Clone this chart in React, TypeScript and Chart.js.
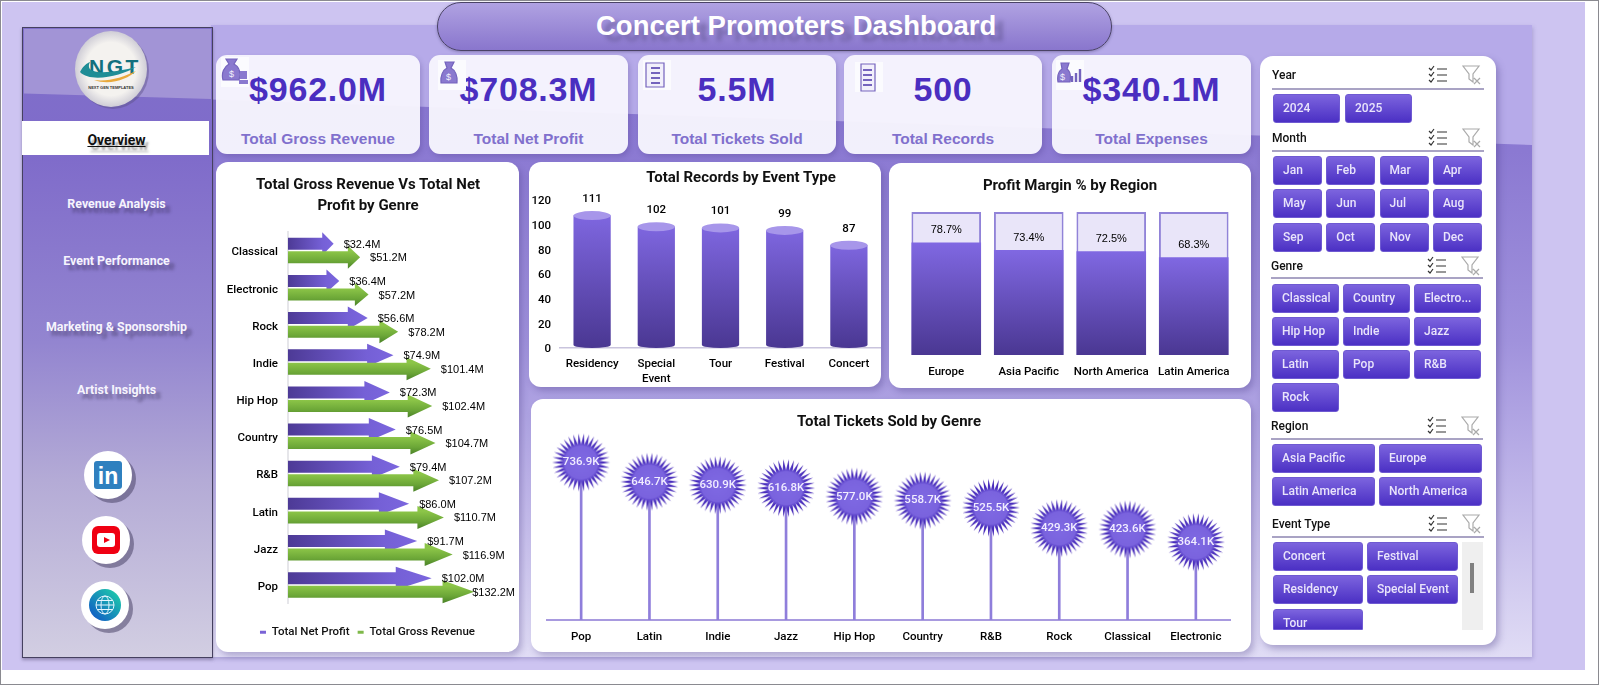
import { useEffect, useRef } from 'react'
import { Chart, registerables } from 'chart.js'

Chart.register(...registerables)

const arrowGenres = ['Classical', 'Electronic', 'Rock', 'Indie', 'Hip Hop', 'Country', 'R&B', 'Latin', 'Jazz', 'Pop']
const netProfit = [32.4, 36.4, 56.6, 74.9, 72.3, 76.5, 79.4, 86.0, 91.7, 102.0]
const grossRevenue = [51.2, 57.2, 78.2, 101.4, 102.4, 104.7, 107.2, 110.7, 116.9, 132.2]

const eventTypes = ['Residency', ['Special', 'Event'], 'Tour', 'Festival', 'Concert']
const eventRecords = [111, 102, 101, 99, 87]
const recordTicks = [0, 20, 40, 60, 80, 100, 120]

const regions = ['Europe', 'Asia Pacific', 'North America', 'Latin America']
const profitMargin = [78.7, 73.4, 72.5, 68.3]
const marginTrack = [100, 100, 100, 100]

const ticketGenres = ['Pop', 'Latin', 'Indie', 'Jazz', 'Hip Hop', 'Country', 'R&B', 'Rock', 'Classical', 'Electronic']
const ticketsSold = [736.9, 646.7, 630.9, 616.8, 577.0, 558.7, 525.5, 429.3, 423.6, 364.1]

const kpiValues = ['$962.0M', '$708.3M', '5.5M', '500', '$340.1M']
const kpiLabels = ['Total Gross Revenue', 'Total Net Profit', 'Total Tickets Sold', 'Total Records', 'Total Expenses']
const navItems = ['Revenue Analysis', 'Event Performance', 'Marketing & Sponsorship', 'Artist Insights']

const ROBOTO = 'Roboto, sans-serif'
const ARIAL = '"Liberation Sans", Arial, sans-serif'

function columnFill(c: any) {
  const { ctx, scales } = c.chart
  const y = scales.y
  if (!y || c.raw == null) return '#7a62dc'
  const top = y.getPixelForValue(c.raw)
  const bottom = y.getPixelForValue(0)
  if (!Number.isFinite(top) || !Number.isFinite(bottom)) return '#7a62dc'
  const g = ctx.createLinearGradient(0, top, 0, bottom)
  g.addColorStop(0, '#8068e2')
  g.addColorStop(1, '#4a3792')
  return g
}

const arrowBars = {
  id: 'arrowBars',
  beforeDatasetDraw: () => false,
  afterDatasetsDraw(chart: any) {
    const { ctx } = chart
    chart.data.datasets.forEach((ds: any, i: number) => {
      const headShare = i === 0 ? 0.25 : 0.17
      chart.getDatasetMeta(i).data.forEach((el: any) => {
        const len = el.x - el.base
        const neck = el.x - len * headShare
        const g = i === 0
          ? ctx.createLinearGradient(el.base, 0, el.x, 0)
          : ctx.createLinearGradient(0, el.y - 6, 0, el.y + 11)
        if (i === 0) {
          g.addColorStop(0, '#4d3a96')
          g.addColorStop(0.75, '#7560d6')
          g.addColorStop(1, '#7b66de')
        } else {
          g.addColorStop(0, '#8cc548')
          g.addColorStop(0.6, '#6ba637')
          g.addColorStop(1, '#4c8429')
        }
        ctx.save()
        ctx.fillStyle = g
        ctx.beginPath()
        ctx.moveTo(el.base, el.y - 6)
        ctx.lineTo(neck, el.y - 6)
        ctx.lineTo(neck, el.y - 11.5)
        ctx.lineTo(el.x, el.y)
        ctx.lineTo(neck, el.y + 11.5)
        ctx.lineTo(neck, el.y + 6)
        ctx.lineTo(el.base, el.y + 6)
        ctx.closePath()
        ctx.fill()
        ctx.restore()
      })
    })
    ctx.save()
    ctx.font = `11px ${ARIAL}`
    ctx.fillStyle = '#000'
    ctx.textBaseline = 'middle'
    ctx.textAlign = 'left'
    chart.data.datasets.forEach((ds: any, i: number) => {
      chart.getDatasetMeta(i).data.forEach((el: any, j: number) => {
        const text = `$${ds.data[j].toFixed(1)}M`
        // the longest label runs back over its arrow tip instead of leaving the card
        const x = Math.min(el.x + 10, chart.width - 4 - ctx.measureText(text).width)
        ctx.fillText(text, x, el.y + 1)
      })
    })
    ctx.restore()
  },
}

const cylinderBars = {
  id: 'cylinderBars',
  beforeDatasetDraw: () => false,
  afterDatasetsDraw(chart: any) {
    const { ctx } = chart
    const values = chart.data.datasets[0].data
    chart.getDatasetMeta(0).data.forEach((el: any, j: number) => {
      const half = el.width / 2
      const g = ctx.createLinearGradient(0, el.y, 0, el.base)
      g.addColorStop(0, '#8068e2')
      g.addColorStop(1, '#4a3792')
      ctx.save()
      ctx.fillStyle = g
      ctx.beginPath()
      ctx.moveTo(el.x - half, el.y + 4.5)
      ctx.lineTo(el.x - half, el.base - 3)
      ctx.ellipse(el.x, el.base - 3, half, 3, 0, Math.PI, 0, true)
      ctx.lineTo(el.x + half, el.y + 4.5)
      ctx.closePath()
      ctx.fill()
      ctx.fillStyle = '#a796ea'
      ctx.beginPath()
      ctx.ellipse(el.x, el.y + 4.5, half, 4.5, 0, 0, Math.PI * 2)
      ctx.fill()
      ctx.font = `500 11.5px ${ROBOTO}`
      ctx.fillStyle = '#000'
      ctx.textAlign = 'center'
      ctx.textBaseline = 'middle'
      ctx.fillText(String(values[j]), el.x, el.y - 12)
      ctx.restore()
    })
  },
}

const marginLabels = {
  id: 'marginLabels',
  afterDatasetsDraw(chart: any) {
    const { ctx } = chart
    ctx.save()
    ctx.font = `11px ${ARIAL}`
    ctx.fillStyle = '#000'
    ctx.textAlign = 'center'
    ctx.textBaseline = 'middle'
    chart.getDatasetMeta(0).data.forEach((el: any, j: number) => {
      ctx.fillText(`${profitMargin[j].toFixed(1)}%`, el.x, el.y - 12)
    })
    ctx.restore()
  },
}

const starLabels = {
  id: 'starLabels',
  afterDatasetsDraw(chart: any) {
    const { ctx } = chart
    ctx.save()
    ctx.font = `500 11.5px ${ROBOTO}`
    ctx.fillStyle = '#f1edff'
    ctx.textAlign = 'center'
    ctx.textBaseline = 'middle'
    chart.getDatasetMeta(1).data.forEach((el: any, j: number) => {
      ctx.fillText(`${ticketsSold[j].toFixed(1)}K`, el.x, el.y)
    })
    ctx.restore()
  },
}

function makeStar() {
  const size = 60
  const c = document.createElement('canvas')
  c.width = size
  c.height = size
  const ctx = c.getContext('2d')!
  const mid = size / 2
  const spikes = 34
  const g = ctx.createRadialGradient(mid, mid, 4, mid, mid, 29)
  g.addColorStop(0, '#7e68e2')
  g.addColorStop(0.5, '#7a63de')
  g.addColorStop(0.64, '#4a2fbe')
  g.addColorStop(1, '#4326b4')
  ctx.fillStyle = g
  ctx.beginPath()
  for (let i = 0; i < spikes * 2; i++) {
    const r = i % 2 === 0 ? 29 : 18
    const a = (i / (spikes * 2)) * Math.PI * 2
    ctx.lineTo(mid + Math.cos(a) * r, mid + Math.sin(a) * r)
  }
  ctx.closePath()
  ctx.fill()
  return c
}

function ChartCard({ left, top, width, height, build }: any) {
  const canvasRef = useRef<HTMLCanvasElement>(null)
  useEffect(() => {
    if (!canvasRef.current) return
    const chart = new Chart(canvasRef.current, build())
    return () => chart.destroy()
  }, [build])
  return (
    <div style={{ position: 'absolute', left, top, width, height, background: '#fff', borderRadius: 12, boxShadow: '3px 4px 6px rgba(70,55,130,.3)' }}>
      <canvas ref={canvasRef} width={width} height={height} style={{ display: 'block' }} />
    </div>
  )
}

const tickFont = { family: ROBOTO, size: 11.5, weight: '500' }

function arrowChart(): any {
  return {
    type: 'bar',
    data: {
      labels: arrowGenres,
      datasets: [
        { label: 'Total Net Profit', data: netProfit, backgroundColor: '#7a63d6', categoryPercentage: 0.73, barPercentage: 1 },
        { label: 'Total Gross Revenue', data: grossRevenue, backgroundColor: '#7fb94a', categoryPercentage: 0.73, barPercentage: 1 },
      ],
    },
    options: {
      indexAxis: 'y',
      animation: false,
      responsive: false,
      layout: { autoPadding: false, padding: { top: 70, bottom: 4 } },
      plugins: {
        tooltip: { enabled: false },
        legend: {
          position: 'bottom',
          labels: { boxWidth: 6, boxHeight: 3, padding: 8, color: '#111', font: tickFont },
        },
      },
      scales: {
        x: {
          min: 0, max: 164,
          grid: { display: false }, border: { display: false },
          ticks: { display: false },
          afterFit: (s: any) => { s.height = 15 },
        },
        y: {
          grid: { display: false, drawTicks: false },
          border: { color: '#e6e6ea', width: 2 },
          ticks: { color: '#000', font: tickFont, padding: 10, labelOffset: 2 },
          afterFit: (s: any) => { s.width = 72 },
        },
      },
    },
    plugins: [arrowBars],
  }
}

function cylinderChart(): any {
  return {
    type: 'bar',
    data: {
      labels: eventTypes,
      datasets: [{ label: 'Total Records', data: eventRecords, backgroundColor: '#7a62dc', categoryPercentage: 0.58, barPercentage: 1 }],
    },
    options: {
      animation: false,
      responsive: false,
      layout: { autoPadding: false, padding: { top: 38 } },
      plugins: { legend: { display: false }, tooltip: { enabled: false } },
      scales: {
        x: {
          grid: { display: false, drawTicks: false },
          border: { color: '#c9c4dd', width: 1.5 },
          ticks: { color: '#000', font: { ...tickFont, lineHeight: 1.35 }, padding: 8, maxRotation: 0 },
          afterFit: (s: any) => { s.height = 39 },
        },
        y: {
          min: 0, max: 120,
          afterBuildTicks: (s: any) => { s.ticks = recordTicks.map(value => ({ value })) },
          grid: { display: false, drawTicks: false },
          border: { display: false },
          ticks: { color: '#000', font: tickFont, padding: 9, labelOffset: 1.5 },
          afterFit: (s: any) => { s.width = 31 },
        },
      },
    },
    plugins: [cylinderBars],
  }
}

function marginChart(): any {
  return {
    type: 'bar',
    data: {
      labels: regions,
      datasets: [
        { label: 'Profit Margin %', data: profitMargin, backgroundColor: columnFill, order: 1 },
        { label: 'Track', data: marginTrack, backgroundColor: '#e9e5f9', borderColor: '#9183d8', borderWidth: 2, order: 2 },
      ],
    },
    options: {
      animation: false,
      responsive: false,
      layout: { autoPadding: false, padding: { top: 49, left: 16, right: 16 } },
      datasets: { bar: { grouped: false, categoryPercentage: 0.844, barPercentage: 1 } },
      plugins: { legend: { display: false }, tooltip: { enabled: false } },
      scales: {
        x: {
          grid: { display: false, drawTicks: false },
          border: { display: false },
          ticks: { color: '#000', font: tickFont, padding: 10, maxRotation: 0 },
          afterFit: (s: any) => { s.height = 33 },
        },
        y: { display: false, min: 0, max: 100 },
      },
    },
    plugins: [marginLabels],
  }
}

function starChart(): any {
  return {
    type: 'bar',
    data: {
      labels: ticketGenres,
      datasets: [
        { label: 'Stem', data: ticketsSold, backgroundColor: '#8f7edb', barThickness: 2, order: 2 },
        { type: 'line', label: 'Total Tickets Sold', data: ticketsSold, showLine: false, pointStyle: makeStar(), clip: false, order: 1 },
      ],
    },
    options: {
      animation: false,
      responsive: false,
      layout: { autoPadding: false, padding: { top: 50, left: 16, right: 21 } },
      plugins: { legend: { display: false }, tooltip: { enabled: false } },
      scales: {
        x: {
          grid: { display: false, drawTicks: false },
          border: { color: '#a89adf', width: 2 },
          ticks: { color: '#000', font: tickFont, padding: 10, maxRotation: 0 },
          afterFit: (s: any) => { s.height = 32 },
        },
        y: { display: false, min: 0, max: 800 },
      },
    },
    plugins: [starLabels],
  }
}

function abs(left: number, top: number, width: number, height: number, extra: any = {}) {
  return { position: 'absolute', left, top, width, height, ...extra } as any
}

function SlicerButton({ x, y, w, label, clip }: any) {
  return (
    <div style={abs(x, y, w, clip ?? 29, {
      background: 'linear-gradient(#7c64de, #4b30c4)',
      border: '1px solid #6f5ad2', boxSizing: 'border-box',
      borderRadius: clip ? '3px 3px 0 0' : 3,
      color: '#e9e4fb', font: `500 12px ${ROBOTO}`, lineHeight: '27px',
      paddingLeft: 9, overflow: 'hidden', whiteSpace: 'nowrap',
    })}>{label}</div>
  )
}

function SlicerHead({ x, y, ruleY, w, label }: any) {
  const iconX = x + w - 56
  return (
    <>
      <div style={abs(x, y - 9, 120, 18, { font: `500 12px ${ROBOTO}`, color: '#111', lineHeight: '18px' })}>{label}</div>
      <div style={abs(x, ruleY, w, 1.5, { background: '#a9a3c4' })} />
      <svg style={abs(iconX, y - 10, 20, 20)} viewBox="0 0 20 20" fill="none" stroke="#333" strokeWidth="1.2">
        <path d="M1 3l2 2 3-4M1 9l2 2 3-4M1 15l2 2 3-4M9 4h10M9 10h10M9 16h10" />
      </svg>
      <svg style={abs(iconX + 34, y - 10, 20, 20)} viewBox="0 0 20 20" fill="none" stroke="#aaa" strokeWidth="1.2">
        <path d="M1 1h16l-6 8v8l-4-3V9zM12 13l6 6M18 13l-6 6" />
      </svg>
    </>
  )
}

function Slicers() {
  const months = ['Jan', 'Feb', 'Mar', 'Apr', 'May', 'Jun', 'Jul', 'Aug', 'Sep', 'Oct', 'Nov', 'Dec']
  const genres = ['Classical', 'Country', 'Electro...', 'Hip Hop', 'Indie', 'Jazz', 'Latin', 'Pop', 'R&B', 'Rock']
  const genreRows = [284, 317, 350, 383]
  return (
    <>
      <div style={abs(1260, 56, 236, 589, { background: '#fff', borderRadius: 13, boxShadow: '3px 4px 7px rgba(70,55,130,.35)' })} />
      <SlicerHead x={1272} y={75} ruleY={88} w={212} label="Year" />
      <SlicerButton x={1273} y={94} w={67} label="2024" />
      <SlicerButton x={1345} y={94} w={67} label="2025" />
      <SlicerHead x={1272} y={138} ruleY={150} w={212} label="Month" />
      {months.map((m, i) => (
        <SlicerButton key={m} x={1273 + (i % 4) * 53.3} y={156 + Math.floor(i / 4) * 33.3} w={49} label={m} />
      ))}
      <SlicerHead x={1271} y={266} ruleY={277} w={212} label="Genre" />
      {genres.map((g, i) => (
        <SlicerButton key={g} x={1272 + (i % 3) * 71} y={genreRows[Math.floor(i / 3)]} w={67} label={g} />
      ))}
      <SlicerHead x={1271} y={426} ruleY={438} w={212} label="Region" />
      <SlicerButton x={1272} y={444} w={103} label="Asia Pacific" />
      <SlicerButton x={1379} y={444} w={103} label="Europe" />
      <SlicerButton x={1272} y={477} w={103} label="Latin America" />
      <SlicerButton x={1379} y={477} w={103} label="North America" />
      <SlicerHead x={1272} y={524} ruleY={536} w={212} label="Event Type" />
      <SlicerButton x={1273} y={542} w={90} label="Concert" />
      <SlicerButton x={1367} y={542} w={91} label="Festival" />
      <SlicerButton x={1273} y={575} w={90} label="Residency" />
      <SlicerButton x={1367} y={575} w={91} label="Special Event" />
      <SlicerButton x={1273} y={609} w={90} label="Tour" clip={21} />
      <div style={abs(1462, 542, 21, 88, { background: '#efefef' })} />
      <div style={abs(1470, 563, 4, 30, { background: '#808080' })} />
    </>
  )
}

function KpiIcon({ x, y, kind }: any) {
  const sheet = kind === 2 || kind === 3
  const outlines = [
    'M5 2h11l-3 5c5 3 7 9 5 16H2C0 16 3 10 8 7z',
    'M7 2h9l-3 6c4 2 7 8 6 15H3C2 16 5 10 9 8z',
    'M3 3h18v24H3z',
    'M6 2h14v27H6z',
    'M5 3h8l-2 6c3 2 4 7 3 13H2C1 16 3 11 6 9z',
  ]
  return (
    <svg style={abs(x, y, 28, 30, { background: '#fbfbfe' })} viewBox="0 0 28 30">
      <path d={outlines[kind]} fill={sheet ? '#f2f0fb' : '#8a79cf'} stroke="#7463bd" strokeWidth="1.2" />
      {sheet ? <path d="M8 8h9M8 13h9M8 18h9M8 23h9" stroke="#7463bd" strokeWidth="1.8" /> : null}
      {kind === 0 ? <path d="M19 14h7v8h-7zM18 23h9v4h-9z" fill="#8a79cf" /> : null}
      {kind === 4 ? <path d="M16 22v-6M20 22v-9M24 22v-13" stroke="#7463bd" strokeWidth="2.4" /> : null}
      {kind < 2 || kind === 4 ? <text x={kind === 4 ? 4 : 8} y="20" fontSize="9" fill="#f2f0fb" fontFamily="Liberation Sans">$</text> : null}
    </svg>
  )
}

function Sidebar() {
  const shadow = '5px 5px 3px rgba(50,42,80,.45)'
  const navY = [204, 261, 327, 390]
  return (
    <>
      <div style={abs(22, 27, 191, 631, {
        background: 'linear-gradient(#8070ca 0%, #7f6bca 20%, #9385d0 50%, #b4abd6 72%, #d2cee2 100%)',
        border: '1.5px solid #45405f', boxSizing: 'border-box', boxShadow: '0 2px 3px rgba(60,50,90,.4)',
      })} />
      <div style={abs(24, 29, 187, 70, { background: '#a294d6', clipPath: 'polygon(0 0, 100% 0, 100% 100%, 0 92%)' })} />
      <div style={abs(22, 121, 187, 34, { background: '#fff' })} />
      <div style={abs(22, 121, 189, 34, {
        textAlign: 'center', font: `bold 14px ${ROBOTO}`, lineHeight: '38px', color: '#111',
        textDecoration: 'underline', textShadow: '3px 5px 2px rgba(80,80,80,.5)',
      })}>Overview</div>
      {navItems.map((n, i) => (
        <div key={n} style={abs(22, navY[i] - 10, 189, 20, {
          textAlign: 'center', font: `bold 12.4px ${ROBOTO}`, lineHeight: '20px', color: '#f6f4fd', textShadow: shadow,
        })}>{n}</div>
      ))}
      <svg style={abs(70, 28, 84, 84)} viewBox="0 0 84 84">
        <defs>
          <radialGradient id="logoFill"><stop offset="0.7" stopColor="#f4f2ef" /><stop offset="1" stopColor="#cfcdd6" /></radialGradient>
        </defs>
        <ellipse cx="43" cy="43" rx="36" ry="38" fill="#5c5088" opacity=".45" />
        <ellipse cx="41" cy="41" rx="36" ry="38" fill="url(#logoFill)" />
        <text x="45" y="46" textAnchor="middle" fontSize="21" fontWeight="bold" fontFamily="Liberation Sans" letterSpacing="2.5" fill="#12707e">NGT</text>
        <path d="M10 44c3-6 7-9 10-10-3 6 0 9 8 10 12 1 26-2 38-5-14 9-46 16-56 5z" fill="#1f8d96" />
        <path d="M24 52c14 2 30-3 42-9-8 8-26 15-42 9z" fill="#e8a93c" />
        <text x="41" y="61" textAnchor="middle" fontSize="4" fontWeight="bold" fontFamily="Liberation Sans" fill="#333">NEXT GEN TEMPLATES</text>
      </svg>
      <svg style={abs(80, 446, 60, 60)} viewBox="0 0 60 60">
        <circle cx="30" cy="30" r="24" fill="#4b4468" opacity=".55" transform="translate(2 3)" />
        <circle cx="28" cy="29" r="24" fill="#fff" />
        <rect x="14" y="15" width="28" height="28" rx="3" fill="#2f80bf" />
        <text x="28" y="38" textAnchor="middle" fontSize="23" fontWeight="bold" fontFamily="Liberation Sans" fill="#fff">in</text>
      </svg>
      <svg style={abs(78, 511, 60, 60)} viewBox="0 0 60 60">
        <circle cx="30" cy="30" r="24" fill="#4b4468" opacity=".55" transform="translate(2 3)" />
        <circle cx="28" cy="29" r="24" fill="#fff" />
        <rect x="14" y="15" width="28" height="28" rx="6" fill="#f00012" />
        <rect x="19" y="22" width="18" height="14" rx="3" fill="#fff" />
        <path d="M26 26l6 3-6 3z" fill="#f00012" />
      </svg>
      <svg style={abs(77, 576, 60, 60)} viewBox="0 0 60 60">
        <defs>
          <linearGradient id="globeFill" x1="1" y1="0" x2="0" y2="1"><stop offset="0" stopColor="#1fd6a8" /><stop offset="1" stopColor="#0f4fc8" /></linearGradient>
        </defs>
        <circle cx="30" cy="30" r="24" fill="#4b4468" opacity=".55" transform="translate(2 3)" />
        <circle cx="28" cy="29" r="24" fill="#fff" />
        <circle cx="28" cy="29" r="16" fill="url(#globeFill)" />
        <g fill="none" stroke="#e6f6ff" strokeWidth="1">
          <circle cx="28" cy="29" r="9" />
          <ellipse cx="28" cy="29" rx="4" ry="9" />
          <path d="M19 29h18M20.5 24.5h15M20.5 33.5h15" />
        </g>
      </svg>
    </>
  )
}

const kpiBoxes = [[216, 204], [429, 199], [638, 198], [844, 198], [1052, 199]]
const iconSpots = [[221, 57], [438, 60], [643, 60], [855, 62], [1056, 60]]

const titleStyle = (cx: number, cy: number) => abs(cx - 200, cy - 11, 400, 22, {
  textAlign: 'center', font: `bold 15px ${ROBOTO}`, lineHeight: '22px', color: '#111',
})

export default function App() {
  return (
    <div style={{ position: 'fixed', left: 0, top: 0, width: 1600, height: 686, overflow: 'hidden', background: '#fff', fontFamily: ARIAL }}>
      <div style={abs(0, 0, 1599, 685, { border: '1.5px solid #8a8a90', boxSizing: 'border-box' })} />
      <div style={abs(2, 2, 1583, 668, { background: '#cdc4f1' })} />
      <div style={abs(211, 25, 1321, 632, {
        background: 'linear-gradient(#8573cf 0%, #8b79d2 20%, #a092dc 50%, #bdb3e8 72%, #e0dcf5 100%)',
        boxShadow: '1px 2px 4px rgba(90,80,150,.3)',
      })} />
      <div style={abs(211, 25, 1321, 120, { background: '#b6aae9', clipPath: 'polygon(0 0, 100% 0, 100% 100%, 0 62%)' })} />

      <Sidebar />

      <div style={abs(437, 2, 675, 49, {
        background: 'linear-gradient(#b0a2e2, #8976cd)', border: '1.5px solid #4a4366', boxSizing: 'border-box',
        borderRadius: 24, boxShadow: '0 1px 3px rgba(60,50,100,.4)',
      })} />
      <div style={abs(596, 8, 410, 36, {
        font: `bold 27.5px ${ARIAL}`, lineHeight: '36px', color: '#fff', whiteSpace: 'nowrap',
        textShadow: '8px 6px 4px rgba(70,60,110,.4)',
      })}>Concert Promoters Dashboard</div>

      {kpiBoxes.map(([x, w], i) => (
        <div key={kpiLabels[i]} style={abs(x, 55, w, 99, { background: 'rgba(247,245,253,.96)', borderRadius: 11, boxShadow: '2px 3px 5px rgba(70,55,130,.25)', textAlign: 'center' })}>
          <div style={{ position: 'absolute', left: 0, right: 0, top: 12, font: `bold 34px ${ARIAL}`, lineHeight: '44px', letterSpacing: 0.8, color: '#4a2ec0' }}>{kpiValues[i]}</div>
          <div style={{ position: 'absolute', left: 0, right: 0, top: 73, font: `bold 15.5px ${ARIAL}`, lineHeight: '22px', color: '#8170cd' }}>{kpiLabels[i]}</div>
        </div>
      ))}
      {iconSpots.map(([x, y], i) => <KpiIcon key={i} x={x} y={y} kind={i} />)}

      <ChartCard left={216} top={162} width={303} height={490} build={arrowChart} />
      <ChartCard left={529} top={162} width={352} height={225} build={cylinderChart} />
      <ChartCard left={889} top={163} width={362} height={225} build={marginChart} />
      <ChartCard left={531} top={399} width={720} height={253} build={starChart} />

      <div style={titleStyle(368, 184)}>Total Gross Revenue Vs Total Net</div>
      <div style={titleStyle(368, 205)}>Profit by Genre</div>
      <div style={titleStyle(741, 177)}>Total Records by Event Type</div>
      <div style={titleStyle(1070, 185)}>Profit Margin % by Region</div>
      <div style={titleStyle(889, 421)}>Total Tickets Sold by Genre</div>

      <Slicers />
    </div>
  )
}
